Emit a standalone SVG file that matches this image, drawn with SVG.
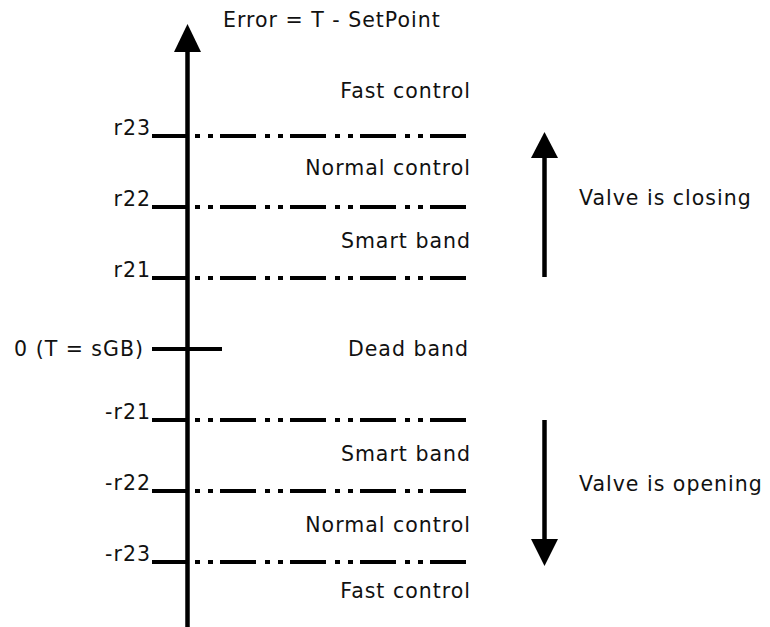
<svg xmlns="http://www.w3.org/2000/svg" width="770" height="627" viewBox="0 0 770 627">
<defs>
<style>
.t{font-family:"DejaVu Sans","Verdana",sans-serif;font-size:20.5px;letter-spacing:1px;fill:#111}
.e{text-anchor:end}
.ax{stroke:#000;stroke-width:4.5;fill:none}
.tick{stroke:#000;stroke-width:4;fill:none}
.dd{stroke:#000;stroke-width:4;fill:none;stroke-dasharray:5 8 5 7 36 9}
.head{fill:#000}
</style>
</defs>
<rect width="770" height="627" fill="#fff"/>
<g id="connectors">
  <line class="ax" x1="187.5" y1="48" x2="187.5" y2="627"/>
  <polygon class="head" points="187.5,24 174,52 201,52"/>
  <line class="tick" x1="152" y1="136" x2="188" y2="136"/>
  <line class="tick" x1="152" y1="207" x2="188" y2="207"/>
  <line class="tick" x1="152" y1="278" x2="188" y2="278"/>
  <line class="tick" x1="152" y1="349" x2="222" y2="349"/>
  <line class="tick" x1="152" y1="420" x2="188" y2="420"/>
  <line class="tick" x1="152" y1="491" x2="188" y2="491"/>
  <line class="tick" x1="152" y1="562" x2="188" y2="562"/>
  <line class="dd" x1="195" y1="136" x2="466" y2="136"/>
  <line class="dd" x1="195" y1="207" x2="466" y2="207"/>
  <line class="dd" x1="195" y1="278" x2="466" y2="278"/>
  <line class="dd" x1="195" y1="420" x2="466" y2="420"/>
  <line class="dd" x1="195" y1="491" x2="466" y2="491"/>
  <line class="dd" x1="195" y1="562" x2="466" y2="562"/>
  <line class="ax" x1="544.5" y1="155" x2="544.5" y2="277"/>
  <polygon class="head" points="544.5,132 531,158 558,158"/>
  <line class="ax" x1="544.5" y1="420" x2="544.5" y2="542"/>
  <polygon class="head" points="544.5,566 531,539 558,539"/>
</g>
<g id="axis-title"><text class="t" x="223" y="27">Error = T - SetPoint</text></g>
<g id="fast-top"><text class="t e" x="471" y="98">Fast control</text></g>
<g id="normal-top"><text class="t e" x="471" y="175">Normal control</text></g>
<g id="smart-top"><text class="t e" x="471" y="248">Smart band</text></g>
<g id="dead"><text class="t e" x="469" y="356">Dead band</text></g>
<g id="smart-bottom"><text class="t e" x="471" y="461">Smart band</text></g>
<g id="normal-bottom"><text class="t e" x="471" y="532">Normal control</text></g>
<g id="fast-bottom"><text class="t e" x="471" y="598">Fast control</text></g>
<g id="r23"><text class="t e" x="151" y="135">r23</text></g>
<g id="r22"><text class="t e" x="151" y="206">r22</text></g>
<g id="r21"><text class="t e" x="151" y="277">r21</text></g>
<g id="zero"><text class="t e" x="144" y="356">0 (T = sGB)</text></g>
<g id="mr21"><text class="t e" x="151" y="419">-r21</text></g>
<g id="mr22"><text class="t e" x="151" y="490">-r22</text></g>
<g id="mr23"><text class="t e" x="151" y="561">-r23</text></g>
<g id="closing"><text class="t" x="579" y="205">Valve is closing</text></g>
<g id="opening"><text class="t" x="579" y="491">Valve is opening</text></g>
</svg>
